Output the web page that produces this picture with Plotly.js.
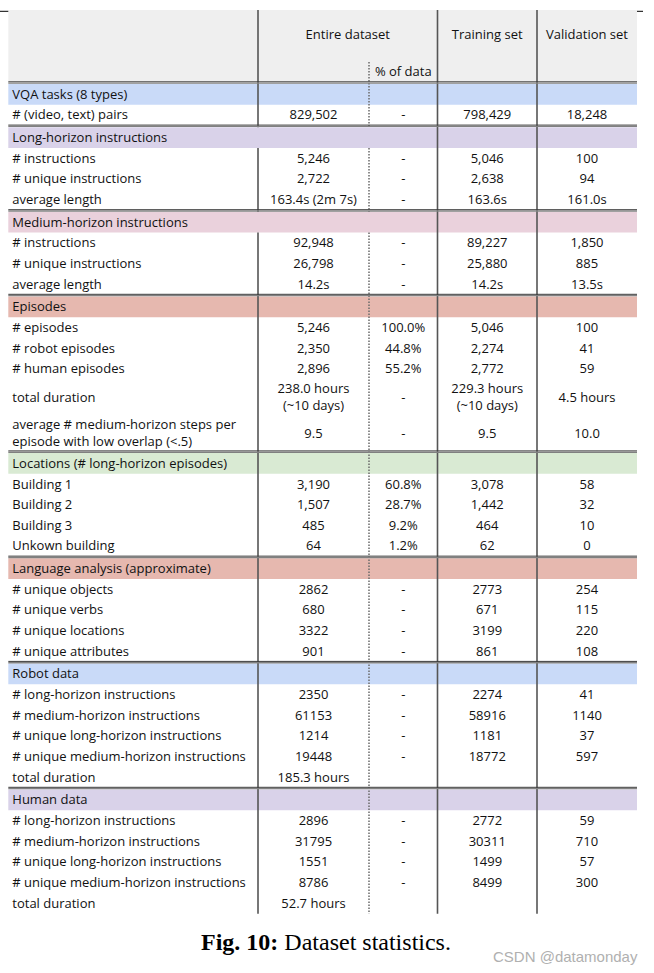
<!DOCTYPE html>
<html><head><meta charset="utf-8">
<script src="https://cdn.plot.ly/plotly-3.0.1.min.js"></script>
<style>html,body{margin:0;padding:0;background:#fff;} #chart{width:654px;height:973px;}</style>
</head><body><div id="chart"></div>
<script>
// ---------------- DATA ----------------
const columnHeaders = ["Entire dataset", "% of data", "Training set", "Validation set"];
const sectionTitles = ["VQA tasks (8 types)", "Long-horizon instructions", "Medium-horizon instructions", "Episodes",
  "Locations (# long-horizon episodes)", "Language analysis (approximate)", "Robot data", "Human data"];
const sectionRowCounts = [1, 3, 3, 5, 4, 4, 5, 5];
const rowLabels = [
  "# (video, text) pairs",
  "# instructions", "# unique instructions", "average length",
  "# instructions", "# unique instructions", "average length",
  "# episodes", "# robot episodes", "# human episodes", "total duration", "average # medium-horizon steps per<br>episode with low overlap (&lt;.5)",
  "Building 1", "Building 2", "Building 3", "Unkown building",
  "# unique objects", "# unique verbs", "# unique locations", "# unique attributes",
  "# long-horizon instructions", "# medium-horizon instructions", "# unique long-horizon instructions", "# unique medium-horizon instructions", "total duration",
  "# long-horizon instructions", "# medium-horizon instructions", "# unique long-horizon instructions", "# unique medium-horizon instructions", "total duration"
];
const entireDataset = ["829,502",
  "5,246", "2,722", "163.4s (2m 7s)",
  "92,948", "26,798", "14.2s",
  "5,246", "2,350", "2,896", "238.0 hours<br>(~10 days)", "9.5",
  "3,190", "1,507", "485", "64",
  "2862", "680", "3322", "901",
  "2350", "61153", "1214", "19448", "185.3 hours",
  "2896", "31795", "1551", "8786", "52.7 hours"];
const pctOfData = ["-",
  "-", "-", "-",
  "-", "-", "-",
  "100.0%", "44.8%", "55.2%", "-", "-",
  "60.8%", "28.7%", "9.2%", "1.2%",
  "-", "-", "-", "-",
  "-", "-", "-", "-", "",
  "-", "-", "-", "-", ""];
const trainingSet = ["798,429",
  "5,046", "2,638", "163.6s",
  "89,227", "25,880", "14.2s",
  "5,046", "2,274", "2,772", "229.3 hours<br>(~10 days)", "9.5",
  "3,078", "1,442", "464", "62",
  "2773", "671", "3199", "861",
  "2274", "58916", "1181", "18772", "",
  "2772", "30311", "1499", "8499", ""];
const validationSet = ["18,248",
  "100", "94", "161.0s",
  "1,850", "885", "13.5s",
  "100", "41", "59", "4.5 hours", "10.0",
  "58", "32", "10", "0",
  "254", "115", "220", "108",
  "41", "1140", "37", "597", "",
  "59", "710", "57", "300", ""];
const captionText = "<b>Fig. 10:</b> Dataset statistics.";
const watermarkText = "CSDN @datamonday";

// ---------------- STYLE / GEOMETRY ----------------
const W = 654, H = 973;
const colBounds = [8.3, 258, 369, 437.5, 537, 637];
const labelX = 12.3;
const headerTop = 10, headerBottom = 81.3, dottedHeaderTop = 62;
const headerTitleY = 35, subHeaderY = 72;
const bodyTop = 84, rowH = 20.65, extraLineH = 15.35, sectionGap = 2;
const textDy = 1.2;
const sectionColors = ["#c9daf8", "#d9d2e9", "#ead1dc", "#e6b8af", "#d9ead3", "#e6b8af", "#c9daf8", "#d9d2e9"];
const sectionSpan = [1, 3, 3, 1, 1, 1, 1, 1];
const headerGray = "#efefef";
const textColor = "#111111";
const solidLine = {color: "#555555", width: 1.6};
const dottedLine = {color: "#6a6a6a", width: 1.5, dash: "1.5px,1.5px"};
const boundaryStyle = [null, solidLine, dottedLine, solidLine, solidLine, null];

// ---------------- LAYOUT COMPUTATION ----------------
const colCenters = [];
for (let i = 0; i < colBounds.length - 1; i++) colCenters.push((colBounds[i] + colBounds[i + 1]) / 2);

const shapes = [];
const leftX = [], leftY = [], leftT = [];
const ctrX = [], ctrY = [], ctrT = [];

function pushCell(x, yc, text, left) {
  const yy = yc + textDy;
  if (left) { leftX.push(x); leftY.push(yy); leftT.push(text); }
  else { ctrX.push(x); ctrY.push(yy); ctrT.push(text); }
}

// top rule & header
shapes.push({type: "line", layer: "below", xref: "x", yref: "y", x0: 0, x1: 643, y0: 11.3, y1: 11.3, line: {color: "#333", width: 1.2}});
shapes.push({type: "rect", layer: "below", xref: "x", yref: "y", x0: colBounds[0], x1: colBounds[5], y0: headerTop, y1: headerBottom, fillcolor: headerGray, line: {width: 0}});

// header texts
pushCell((colBounds[1] + colBounds[3]) / 2, headerTitleY, columnHeaders[0], false);
pushCell(colCenters[2], subHeaderY, columnHeaders[1], false);
pushCell(colCenters[3], headerTitleY, columnHeaders[2], false);
pushCell(colCenters[4], headerTitleY, columnHeaders[3], false);

let y = bodyTop;
let r = 0;
const holes = [];
const sectionTops = [];
sectionTitles.forEach((title, s) => {
  if (s > 0) y += sectionGap;
  sectionTops.push(y);
  shapes.push({type: "rect", layer: "below", xref: "x", yref: "y", x0: colBounds[0], x1: colBounds[5], y0: y, y1: y + rowH, fillcolor: sectionColors[s], line: {width: 0}});
  holes.push({top: y, bottom: y + rowH, span: sectionSpan[s]});
  pushCell(labelX, y + rowH / 2, title, true);
  y += rowH;
  for (let k = 0; k < sectionRowCounts[s]; k++, r++) {
    const cells = [rowLabels[r], entireDataset[r], pctOfData[r], trainingSet[r], validationSet[r]];
    const nl = Math.max(...cells.map(c => c.split("<br>").length));
    const h = rowH + (nl - 1) * extraLineH;
    const yc = y + h / 2;
    pushCell(labelX, yc, cells[0], true);
    for (let c = 1; c < 5; c++) if (cells[c]) pushCell(colCenters[c], yc, cells[c], false);
    y += h;
  }
});
const bodyBottom = y + 0.3;

// vertical boundaries
for (let b = 1; b <= 4; b++) {
  const st = boundaryStyle[b];
  let start = (b === 2) ? dottedHeaderTop : headerTop;
  const segs = [];
  holes.forEach(hl => {
    if (b < hl.span) { segs.push([start, hl.top]); start = hl.bottom; }
  });
  segs.push([start, bodyBottom]);
  segs.forEach(sg => shapes.push({type: "line", layer: "below", xref: "x", yref: "y",
    x0: colBounds[b], x1: colBounds[b], y0: sg[0], y1: sg[1], line: st}));
}

// double rules above every section
sectionTops.forEach(t => {
  shapes.push({type: "line", layer: "below", xref: "x", yref: "y", x0: colBounds[0], x1: colBounds[5], y0: t - 2.2, y1: t - 2.2, line: {color: "#3a3a3a", width: 1}});
  shapes.push({type: "line", layer: "below", xref: "x", yref: "y", x0: colBounds[0], x1: colBounds[5], y0: t - 0.9, y1: t - 0.9, line: {color: "#808080", width: 1.4}});
});

const font = {family: "Open Sans", size: 13, color: textColor};
const traces = [
  {type: "scatter", mode: "text", x: leftX, y: leftY, text: leftT, textposition: "middle right", textfont: font, hoverinfo: "skip", showlegend: false, cliponaxis: false},
  {type: "scatter", mode: "text", x: ctrX, y: ctrY, text: ctrT, textposition: "middle center", textfont: font, hoverinfo: "skip", showlegend: false, cliponaxis: false}
];

const layout = {
  width: W, height: H, autosize: false,
  margin: {l: 0, r: 0, t: 0, b: 0, pad: 0},
  paper_bgcolor: "#ffffff", plot_bgcolor: "#ffffff",
  xaxis: {range: [0, W], visible: false, fixedrange: true},
  yaxis: {range: [H, 0], visible: false, fixedrange: true},
  shapes: shapes,
  annotations: [
    {xref: "x", yref: "y", x: 326, y: 942, text: captionText, showarrow: false, xanchor: "center", yanchor: "middle",
      font: {family: "Liberation Serif", size: 24, color: "#000"}},
    {xref: "x", yref: "y", x: 640, y: 956, text: watermarkText, showarrow: false, xanchor: "right", yanchor: "middle",
      font: {family: "Liberation Sans", size: 15, color: "#b0b0b0"}}
  ]
};

Plotly.newPlot("chart", traces, layout, {staticPlot: true, displayModeBar: false});
</script>
</body></html>
